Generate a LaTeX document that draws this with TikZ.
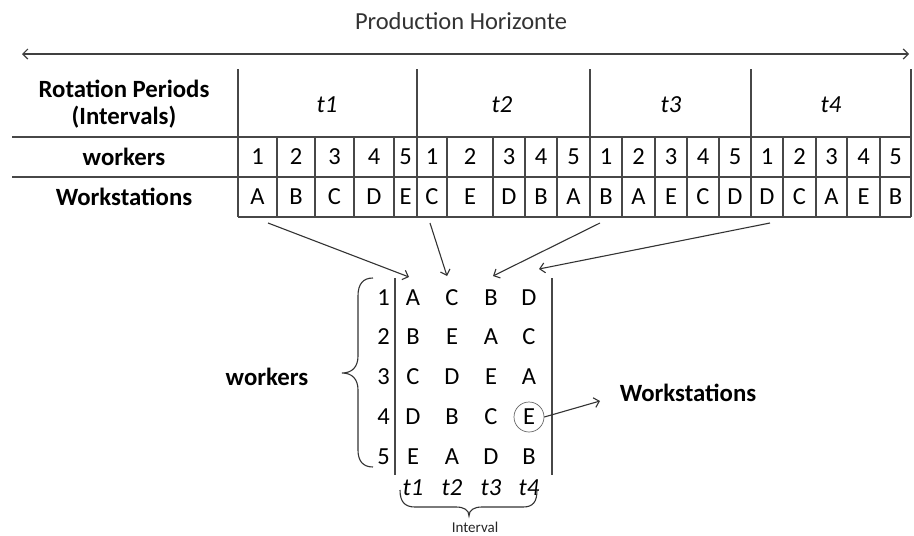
\documentclass[tikz,border=0pt]{standalone}
\usepackage{fontspec}
\setmainfont{Carlito}
\usetikzlibrary{arrows.meta}
\begin{document}
\begin{tikzpicture}[x=1pt,y=-1pt,
  gridline/.style={draw=black!72, line width=1.2pt},
  lab/.style={font=\fontsize{24.8}{27}\selectfont\bfseries, inner sep=0pt, align=center},
  cell/.style={font=\fontsize{24.5}{26}\selectfont, inner sep=0pt},
  per/.style={font=\fontsize{24.5}{26}\selectfont\itshape, inner sep=0pt},
  arr/.style={draw=black!80, line width=1.1pt, -{Straight Barb[length=5pt,width=10pt]}},
  bracepath/.style={draw=black!80, line width=1.1pt}]
\useasboundingbox (0,0) rectangle (914,536);

% title and horizon arrow
\node[font=\fontsize{24.5}{27}\selectfont, text=black!80, inner sep=0pt] (title) at (461,21) {Production Horizonte};
\coordinate (hl) at (22,54);
\coordinate (hr) at (909,54);
\draw[draw=black!75, line width=1.2pt, {Straight Barb[length=5pt,width=10pt]}-{Straight Barb[length=5pt,width=10pt]}] (hl) -- (hr);

% row labels
\node[lab] (rp) at (124,104) {Rotation Periods\\(Intervals)};
\node[lab] (wk) at (124,157) {workers};
\node[lab] (ws) at (124,197) {Workstations};

% grid
\draw[gridline] (12,137) -- (911,137);
\draw[gridline] (12,177) -- (911,177);
\draw[gridline] (238,217) -- (911,217);
\foreach \x in {238,417,590,751,911} \draw[gridline] (\x,69) -- (\x,217);

% period labels
\node[per] (t1) at (327,105) {t1};
\node[per] (t2) at (502,105) {t2};
\node[per] (t3) at (671,105) {t3};
\node[per] (t4) at (831,105) {t4};

% cells
\foreach \a/\b/\d/\l [count=\i] in {
  238/277/1/A,277/315/2/B,315/354/3/C,354/394/4/D,394/417/5/E,
  417/447/1/C,447/493/2/E,493/525/3/D,525/557/4/B,557/590/5/A,
  590/622/1/B,622/655/2/A,655/687/3/E,687/719/4/C,719/751/5/D,
  751/783/1/D,783/816/2/C,816/847/3/A,847/880/4/E,880/911/5/B} {
  \node[cell] (w\i) at ({(\a+\b)/2},157) {\d};
  \node[cell] (s\i) at ({(\a+\b)/2},197) {\l};
  \draw[gridline] (\b,137) -- (\b,217);
}

% arrows from table to matrix
\coordinate (a1s) at (268,223); \coordinate (a1e) at (409,277);
\coordinate (a2s) at (430,223); \coordinate (a2e) at (447,276);
\coordinate (a3s) at (600,223); \coordinate (a3e) at (493,276);
\coordinate (a4s) at (770,223); \coordinate (a4e) at (539,269);
\draw[arr] (a1s) -- (a1e);
\draw[arr] (a2s) -- (a2e);
\draw[arr] (a3s) -- (a3e);
\draw[arr] (a4s) -- (a4e);

% matrix
\draw[gridline] (395,278) -- (395,475);
\draw[gridline] (552,278) -- (552,475);
\foreach \r/\y in {1/298,2/337,3/377,4/417,5/457}
  \node[cell, anchor=east] (r\r) at (390,\y) {\r};
\foreach \row/\y/\la/\lb/\lc/\ld in {1/298/A/C/B/D,2/337/B/E/A/C,3/377/C/D/E/A,4/417/D/B/C/E,5/457/E/A/D/B} {
  \node[cell] (m\row a) at (413,\y) {\la};
  \node[cell] (m\row b) at (452,\y) {\lb};
  \node[cell] (m\row c) at (491,\y) {\lc};
  \node[cell] (m\row d) at (529,\y) {\ld};
}
\node[per] (b1) at (413,488) {t1};
\node[per] (b2) at (452,488) {t2};
\node[per] (b3) at (491,488) {t3};
\node[per] (b4) at (529,488) {t4};

% circle around E and arrow to Workstations
\node[circle, draw=black!60, line width=0.7pt, minimum size=30pt, inner sep=0pt] (circE) at (529,417) {};
\coordinate (wsarr) at (600,401);
\draw[arr] (circE.east) -- (wsarr);
\node[lab] (wsr) at (688,393) {Workstations};

% left brace and workers label
\draw[bracepath] (373,278) .. controls (363,278) and (358,284) .. (358,296) -- (358,356) .. controls (358,367) and (352,373) .. (342,373) .. controls (352,373) and (358,379) .. (358,390) -- (358,450) .. controls (358,461) and (363,467) .. (373,467);
\node[lab] (wkl) at (267,377) {workers};

% bottom brace and Interval label
\draw[bracepath] (400,490) .. controls (400,502) and (405,507) .. (415,507) -- (456,507) .. controls (464,507) and (469,510) .. (469,516) .. controls (469,510) and (474,507) .. (482,507) -- (523,507) .. controls (533,507) and (537,502) .. (537,490);
\node[font=\fontsize{15}{17}\selectfont, text=black!85, inner sep=0pt] (intv) at (475,527) {Interval};
\end{tikzpicture}
\end{document}
